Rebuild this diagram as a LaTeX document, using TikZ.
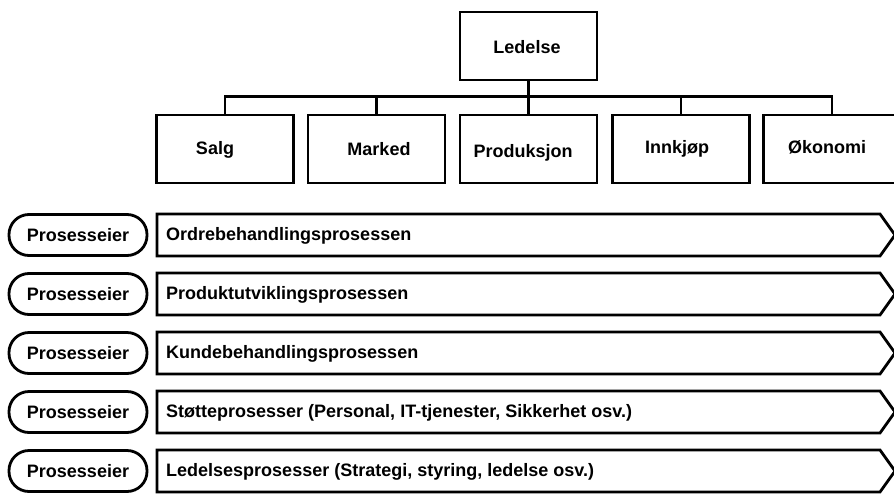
\documentclass[tikz,border=0pt]{standalone}
\usepackage{fontspec}
\setmainfont{Liberation Sans}
\usetikzlibrary{calc}
\begin{document}
\begin{tikzpicture}[x=1pt,y=-1pt,
  every node/.style={font=\fontsize{18}{21}\selectfont\bfseries},
  outline/.style={draw=black,line width=2.8pt,line join=miter},
  unit/.style={outline,rectangle,minimum width=137pt,minimum height=68pt,inner sep=0pt},
  lbl/.style={inner sep=0pt,anchor=base},
  pill/.style={outline,rectangle,rounded corners=20pt,minimum width=138pt,minimum height=41pt,inner sep=0pt},
  proctext/.style={anchor=west,inner sep=0pt},
  link/.style={draw=black,line width=2.8pt}]
\useasboundingbox (0,0) rectangle (894,493);
\clip (0,0) rectangle (894,493);

% management and departments
\node[unit] (led) at (528.5,46) {};
\node[lbl] (ledt) at (527,53) {Ledelse};

\node[unit] (salg) at (225,149) {};
\node[unit] (mark) at (376.5,149) {};
\node[unit] (prod) at (528.5,149) {};
\node[unit] (innk) at (681,149) {};
\node[unit] (okon) at (832,149) {};

\node[lbl] (salgt) at (215,154) {Salg};
\node[lbl] (markt) at (379,155) {Marked};
\node[lbl] (prodt) at (523,157) {Produksjon};
\node[lbl] (innkt) at (677,153) {Innkjøp};
\node[lbl] (okont) at (827,153) {Økonomi};

% bus connecting departments to management
\coordinate (busL) at (salg.north |- 0,96.5);
\coordinate (busR) at (okon.north |- 0,96.5);
\draw[link] (busL) -- (busR);
\draw[link] (led.south) -- (prod.north);
\draw[link,line cap=rect] (busL) -- (salg.north);
\draw[link] (mark.north |- busL) -- (mark.north);
\draw[link] (innk.north |- busL) -- (innk.north);
\draw[link,line cap=rect] (busR) -- (okon.north);

% process rows
\foreach \i/\y/\txt in {1/235/Ordrebehandlingsprosessen,
                        2/294/Produktutviklingsprosessen,
                        3/353/Kundebehandlingsprosessen,
                        4/412/{Støtteprosesser (Personal, IT-tjenester, Sikkerhet osv.)},
                        5/471/{Ledelsesprosesser (Strategi, styring, ledelse osv.)}}{
  \node[pill] (own\i) at (78,\y) {Prosesseier};
  \coordinate (a\i) at (157,\y);
  \draw[outline] ($(a\i)+(0,-21)$) -- ++(723,0) -- ++(15,21) -- ++(-15,21) -- ($(a\i)+(0,21)$) -- cycle;
  \node[proctext] (proc\i) at ($(a\i)+(9,1)$) {\txt};
}
\end{tikzpicture}
\end{document}
